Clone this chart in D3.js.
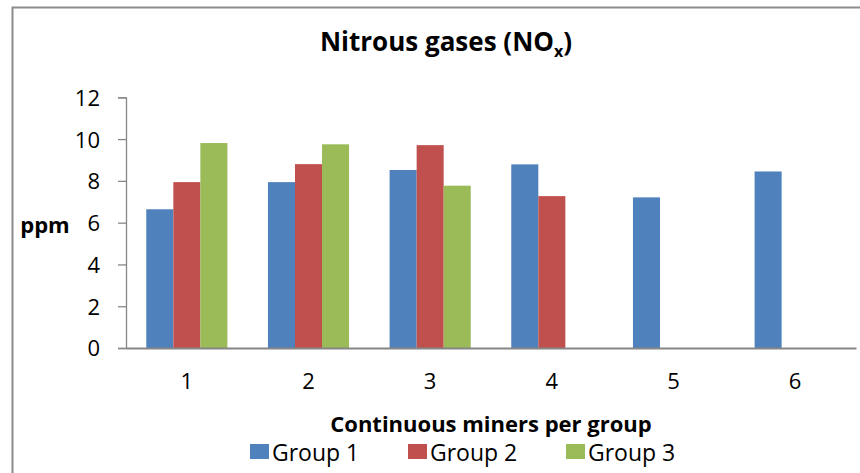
<!DOCTYPE html>
<html>
<head>
<meta charset="utf-8">
<script src="https://cdn.jsdelivr.net/npm/d3@7"></script>
<style>
  body { margin: 0; background: #fff; }
  svg text { font-family: "Open Sans", sans-serif; fill: #000; }
</style>
</head>
<body>
<div id="chart"></div>
<script>
// data
var categories = ["1", "2", "3", "4", "5", "6"];
var seriesNames = ["Group 1", "Group 2", "Group 3"];
var group1 = [6.64, 7.94, 8.52, 8.79, 7.21, 8.45];
var group2 = [7.94, 8.80, 9.71, 7.27, null, null];
var group3 = [9.81, 9.75, 7.77, null, null, null];
var yTicks = [0, 2, 4, 6, 8, 10, 12];

var colors = ["#4F81BD", "#C0504D", "#9BBB59"];
var width = 860, height = 473;
var margin = {top: 97, right: 4, bottom: 125, left: 126};

var svg = d3.select("#chart").append("svg")
    .attr("width", width)
    .attr("height", height);

// outer chart border (only top and left visible)
svg.append("path")
    .attr("d", "M12.5,480 L12.5,7.5 L870,7.5")
    .attr("fill", "none")
    .attr("stroke", "#8c8c8c")
    .attr("stroke-width", 2);

var x = d3.scaleBand()
    .domain(categories)
    .range([margin.left, width - margin.right])
    .paddingInner(0)
    .paddingOuter(0);

var x1 = d3.scaleBand()
    .domain(seriesNames)
    .range([0, x.bandwidth()])
    .paddingOuter(0.75)
    .paddingInner(0);

var y = d3.scaleLinear()
    .domain([0, 12])
    .range([height - margin.bottom, margin.top + 0.3]);

var table = categories.map((c, i) => ({
    cat: c,
    values: [group1[i], group2[i], group3[i]]
}));

svg.append("g")
    .selectAll("g")
    .data(table)
    .enter()
    .append("g")
    .attr("transform", d => `translate(${x(d.cat)},0)`)
    .selectAll("rect")
    .data(d => d.values.map((v, j) => ({name: seriesNames[j], value: v, j: j})).filter(d => d.value != null))
    .enter()
    .append("rect")
    .attr("x", d => x1(d.name))
    .attr("y", d => y(d.value))
    .attr("width", x1.bandwidth())
    .attr("height", d => y(0) - y(d.value))
    .attr("fill", d => colors[d.j]);

// y axis
var yAxis = svg.append("g")
    .attr("transform", `translate(${margin.left},0)`)
    .call(d3.axisLeft(y).tickValues(yTicks).tickSize(8).tickSizeOuter(8).tickPadding(18));
yAxis.selectAll("path, line").attr("stroke", "#868686").attr("stroke-width", 1.3);
yAxis.selectAll("text").style("font-size", "22px").attr("dy", "0.36em");

// x axis
var xAxis = svg.append("g")
    .attr("transform", `translate(0,${y(0)})`)
    .call(d3.axisBottom(x).tickSize(0).tickSizeOuter(0).tickPadding(25));
xAxis.selectAll("path").attr("stroke", "#868686").attr("stroke-width", 2);
xAxis.selectAll("text").style("font-size", "22px");

// title
var title = svg.append("text")
    .attr("x", 446)
    .attr("y", 51)
    .attr("text-anchor", "middle")
    .style("font-size", "26px")
    .style("font-weight", "bold");
title.append("tspan").text("Nitrous gases (NO");
title.append("tspan").attr("dy", 6).style("font-size", "16px").text("x");
title.append("tspan").attr("dy", -6).text(")");

// axis titles
svg.append("text")
    .attr("x", 45)
    .attr("y", 233)
    .attr("text-anchor", "middle")
    .style("font-size", "22px")
    .style("font-weight", "bold")
    .text("ppm");

svg.append("text")
    .attr("x", 491)
    .attr("y", 432)
    .attr("text-anchor", "middle")
    .style("font-size", "22px")
    .style("font-weight", "bold")
    .text("Continuous miners per group");

// legend
var legendX = [250, 408, 566];
var legend = svg.append("g")
    .selectAll("g")
    .data(seriesNames)
    .enter()
    .append("g")
    .attr("transform", (d, i) => `translate(${legendX[i]},444)`);
legend.append("rect")
    .attr("width", 19)
    .attr("height", 15)
    .attr("fill", (d, i) => colors[i]);
legend.append("text")
    .attr("x", 22)
    .attr("y", 17)
    .style("font-size", "23px")
    .text(d => d);
</script>
</body>
</html>
